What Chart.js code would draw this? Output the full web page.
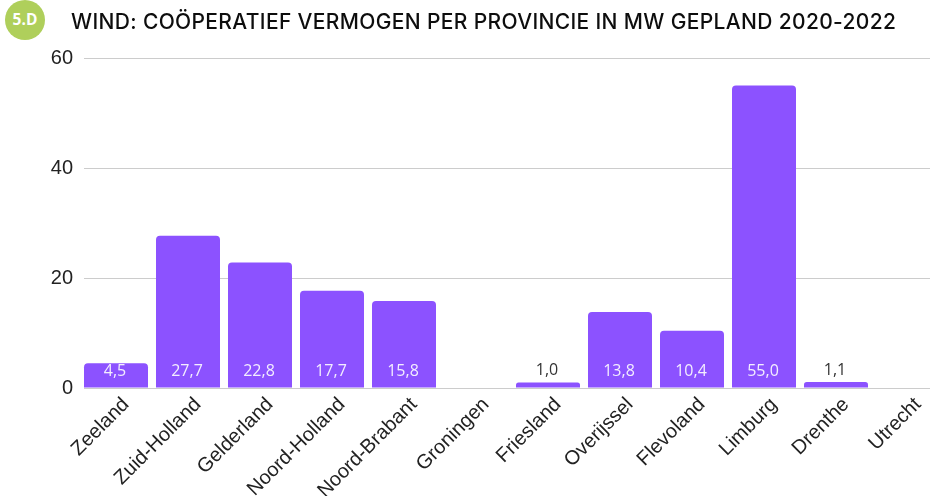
<!DOCTYPE html>
<html><head><meta charset="utf-8">
<script src="https://cdn.jsdelivr.net/npm/chart.js@4"></script>
<style>
html,body{margin:0;padding:0;background:#fff;width:930px;height:496px;overflow:hidden}
#wrap{position:absolute;left:0;top:0;width:960px;height:496px}
#badge{position:absolute;left:5px;top:0;width:40px;height:40px;border-radius:50%;background:#afcf5b;color:#fff;font:700 15.5px "Open Sans",sans-serif;line-height:39px;text-align:center;z-index:2}
#title{position:absolute;left:71px;top:9px;font:500 21px Inter,sans-serif;color:#0d0d0d;white-space:nowrap;z-index:2;letter-spacing:0.35px}
</style></head><body>
<div id="badge">5.D</div>
<div id="title">WIND: COÖPERATIEF VERMOGEN PER PROVINCIE IN MW GEPLAND 2020-2022</div>
<div id="wrap"><canvas id="c" width="960" height="496"></canvas></div>
<script>
const categories=["Zeeland","Zuid-Holland","Gelderland","Noord-Holland","Noord-Brabant","Groningen","Friesland","Overijssel","Flevoland","Limburg","Drenthe","Utrecht"];
const values=[4.5,27.7,22.8,17.7,15.8,null,1.0,13.8,10.4,55.0,1.1,null];
const yTicks=[0,20,40,60];
const insideMinimum=3;

const labels={id:'valueLabels',afterDatasetsDraw(chart){
  const ctx=chart.ctx,meta=chart.getDatasetMeta(0),base=chart.scales.y.getPixelForValue(0);
  ctx.save();ctx.font='16px "Open Sans"';ctx.textAlign='center';ctx.textBaseline='middle';
  values.forEach((v,i)=>{
    if(v==null)return;
    const el=meta.data[i],inside=v>insideMinimum;
    ctx.fillStyle=inside?'#f3edff':'#333333';
    ctx.fillText(v.toFixed(1).replace('.',','),el.x-1,inside?base-16.5:el.y-12);
  });
  ctx.restore();
}};
const trimGrid={id:'trimGrid',beforeDatasetsDraw(chart){
  const a=chart.chartArea,ctx=chart.ctx;
  ctx.save();ctx.fillStyle='#fff';ctx.fillRect(a.left-1,a.top-2,5,a.bottom-a.top+4);ctx.restore();
}};
new Chart(document.getElementById('c'),{
  type:'bar',
  data:{labels:categories,datasets:[{data:values,backgroundColor:'#8c52ff',borderWidth:0,
    borderRadius:{topLeft:4,topRight:4,bottomLeft:0,bottomRight:0},borderSkipped:false,
    categoryPercentage:64/72,barPercentage:1}]},
  plugins:[trimGrid,labels],
  options:{responsive:false,animation:false,
    layout:{padding:{left:0,right:16,top:58,bottom:0}},
    plugins:{legend:{display:false},tooltip:{enabled:false},title:{display:false}},
    scales:{
      y:{min:0,max:60,afterBuildTicks(s){s.ticks=yTicks.map(v=>({value:v}));},
        afterFit(s){s.width=80;},
        grid:{color:'#cccccc',lineWidth:1,drawTicks:false},border:{display:false},
        ticks:{color:'#222222',padding:7,font:{family:'"Liberation Sans"',size:20}}},
      x:{afterFit(s){s.height=108;},grid:{display:false},border:{display:false},
        ticks:{color:'#222222',padding:-3,labelOffset:10,autoSkip:false,minRotation:45,maxRotation:45,font:{family:'"Liberation Sans"',size:20}}}
    }
  }
});
</script></body></html>
